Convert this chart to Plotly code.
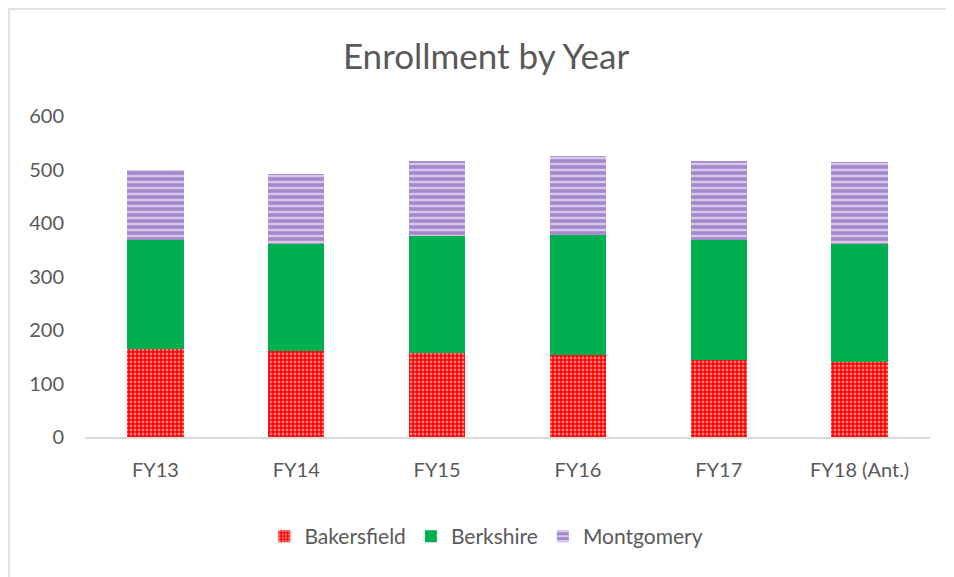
import plotly.graph_objects as go

years = ['FY13', 'FY14', 'FY15', 'FY16', 'FY17', 'FY18 (Ant.)']
bakersfield = [165, 160, 157, 153, 144, 140]
berkshire = [203, 201, 219, 225, 225, 221]
montgomery = [131, 131, 140, 147, 147, 153]

font = 'Lato'
grey = '#595959'

fig = go.Figure()
fig.add_bar(x=years, y=bakersfield, name='Bakersfield',
            marker=dict(color='#FF0000', line_width=0,
                        pattern=dict(shape='.', fgcolor='#FFFFFF', bgcolor='#FF0000',
                                     size=4, solidity=0.4)))
fig.add_bar(x=years, y=berkshire, name='Berkshire',
            marker=dict(color='#00B050', line_width=0))
fig.add_bar(x=years, y=montgomery, name='Montgomery',
            marker=dict(color='#B9A2D6', line_width=0,
                        pattern=dict(shape='-', fgcolor='#7446AC', bgcolor='#D6C8EA',
                                     size=6, solidity=0.6)))

# page body has an 8px margin, so plot area is placed 8px up/left of the picture
fig.update_layout(
    barmode='stack',
    bargap=0.6,
    width=954, height=577,
    margin=dict(l=77, r=32, t=108, b=148),
    paper_bgcolor='white', plot_bgcolor='white',
    font=dict(family=font, color=grey, size=20),
    title=dict(text='Enrollment by Year', x=478 / 954, xanchor='center', y=1 - 49 / 577,
               yanchor='middle', font=dict(size=35, color=grey, family=font)),
    legend=dict(orientation='h', x=0.475, xanchor='center', y=-0.31, yanchor='middle',
                font=dict(size=21, color=grey), traceorder='normal', itemwidth=30),
    showlegend=True,
)
fig.update_xaxes(showline=True, linecolor='#D9D9D9', linewidth=1.5, ticks='',
                 ticklabelstandoff=14, tickfont=dict(size=20, color=grey))
fig.update_yaxes(range=[0, 600], dtick=100, showgrid=False, zeroline=False,
                 showline=False, ticks='', ticklabelstandoff=20,
                 tickfont=dict(size=20, color=grey))

# chart frame
fig.add_shape(type='rect', xref='paper', yref='paper',
              x0=-76 / 845, x1=1.2, y0=-1, y1=1 + 107 / 321,
              line=dict(color='#D9D9D9', width=1.5), fillcolor='rgba(0,0,0,0)', layer='below')

fig.write_html('out.html')
